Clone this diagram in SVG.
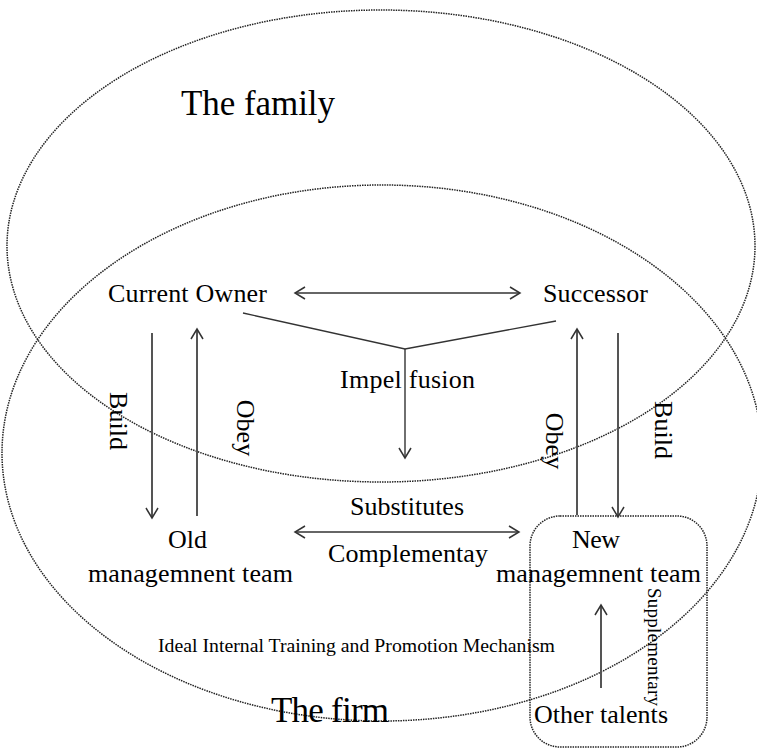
<svg xmlns="http://www.w3.org/2000/svg" width="757" height="750" viewBox="0 0 757 750">
<style>
.bg{fill:#fff}
.dot{fill:none;stroke:#222;stroke-width:1.5;stroke-dasharray:1.5 1}
.t{font-family:"Liberation Serif","Times New Roman",serif;fill:#000}
.m{font-size:26px}
.big{font-size:35px}
.sm{font-size:18px}
.conn line,.conn path{fill:none}
.h{stroke:#333;stroke-width:1.4}
.v{stroke:#555;stroke-width:2}
</style>
<defs>
<marker id="ah" markerUnits="userSpaceOnUse" markerWidth="14" markerHeight="14" refX="11" refY="7" orient="auto-start-reverse" viewBox="0 0 14 14">
<path d="M1,1 L11,7 L1,13" fill="none" stroke="#333" stroke-width="1.5"/>
</marker>
</defs>
<rect class="bg" x="0" y="0" width="757" height="750"/>
<g id="family">
<ellipse class="dot" cx="381" cy="246" rx="374" ry="236"/>
<text class="t big" x="181" y="115" textLength="154">The family</text>
</g>
<g id="firm">
<ellipse class="dot" cx="382" cy="453" rx="380" ry="268"/>
<text class="t big" x="271" y="722" textLength="118">The firm</text>
<text class="t sm" x="158" y="652" textLength="397" lengthAdjust="spacingAndGlyphs">Ideal Internal Training and Promotion Mechanism</text>
</g>
<g id="current-owner">
<text class="t m" x="108" y="302" textLength="159">Current Owner</text>
</g>
<g id="successor">
<text class="t m" x="543" y="302" textLength="105">Successor</text>
</g>
<g id="old-team">
<text class="t m" x="168" y="548" textLength="39">Old</text>
<text class="t m" x="88" y="582" textLength="205">managemnent team</text>
</g>
<g id="new-team">
<rect class="dot" x="530" y="516" width="177" height="231" rx="30" ry="30"/>
<text class="t m" x="572" y="548" textLength="48">New</text>
<text class="t m" x="496" y="582" textLength="205">managemnent team</text>
</g>
<g id="other-talents">
<text class="t m" x="534" y="723" textLength="134">Other talents</text>
</g>
<g id="connectors" class="conn">
<line class="h" x1="295" y1="293" x2="520" y2="293" marker-start="url(#ah)" marker-end="url(#ah)"/>
<polyline class="h" points="243,313 405,349 556,321" fill="none"/>
<line class="h" x1="405" y1="349" x2="405" y2="458" marker-end="url(#ah)"/>
<line class="v" x1="152" y1="333" x2="152" y2="518" marker-end="url(#ah)"/>
<line class="v" x1="197" y1="516" x2="197" y2="329" marker-end="url(#ah)"/>
<line class="v" x1="577" y1="515" x2="577" y2="329" marker-end="url(#ah)"/>
<line class="v" x1="618" y1="333" x2="618" y2="517" marker-end="url(#ah)"/>
<line class="h" x1="295" y1="532" x2="519" y2="532" marker-start="url(#ah)" marker-end="url(#ah)"/>
<line class="v" x1="601" y1="688" x2="601" y2="605" marker-end="url(#ah)"/>
</g>
<g id="labels">
<text class="t m" x="340" y="388" textLength="135">Impel fusion</text>
<text class="t m" x="350" y="515" textLength="114">Substitutes</text>
<text class="t m" x="328" y="562" textLength="160">Complementay</text>
<text class="t m" text-anchor="middle" transform="translate(110,421) rotate(90)">Build</text>
<text class="t m" text-anchor="middle" transform="translate(237,428) rotate(90)">Obey</text>
<text class="t m" text-anchor="middle" transform="translate(546,441) rotate(90)">Obey</text>
<text class="t m" text-anchor="middle" transform="translate(655,430) rotate(90)">Build</text>
<text class="t" style="font-size:19px" text-anchor="middle" transform="translate(648,647) rotate(90)" textLength="118">Supplementary</text>
</g>
</svg>
